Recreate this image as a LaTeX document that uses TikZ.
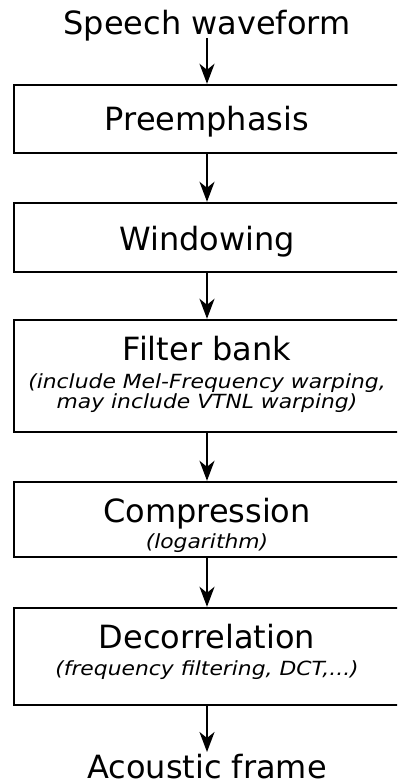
\documentclass[tikz,border=0pt]{standalone}
\usepackage{fontspec}
\setmainfont{DejaVu Sans}
\newfontfamily\notefont[FakeStretch=1.12]{DejaVu Sans}
\usetikzlibrary{arrows.meta}

\tikzset{
  stage/.style={draw, line width=2.4pt, minimum width=386pt, inner sep=0pt},
  title/.style={anchor=base, font=\fontsize{32}{38}\selectfont},
  note/.style={anchor=base, font=\notefont\fontsize{19.5}{22}\selectfont\itshape},
  flow/.style={line width=2.2pt, -{Stealth[length=20pt, width=15pt, inset=6pt]}}
}

\begin{document}
\begin{tikzpicture}[x=1pt, y=-1pt]

    \useasboundingbox (0,0) rectangle (397,784);
    \clip (0,0) rectangle (397,784);

    % Input and output
    \node[title] (src) at (207,35) {Speech waveform};
    \node[title] (dst) at (207,778) {Acoustic frame};
    \coordinate (srcout) at (207,38);
    \coordinate (dstin) at (207,752);

    % Processing stages
    \node[stage, minimum height=68pt] (pre) at (207,119) {};
    \node[title] (pretext) at (207,130) {Preemphasis};

    \node[stage, minimum height=69pt] (win) at (207,237.5) {};
    \node[title] (wintext) at (207,250) {Windowing};

    \node[stage, minimum height=112pt] (fb) at (207,376) {};
    \node[title] (fbtext) at (207,360) {Filter bank};
    \node[note] (fbnote1) at (207,388) {(include Mel-Frequency warping,};
    \node[note] (fbnote2) at (207,408) {may include VTNL warping)};

    \node[stage, minimum height=75pt] (comp) at (207,519.5) {};
    \node[title] (comptext) at (207,522) {Compression};
    \node[note] (compnote) at (207,548) {(logarithm)};

    \node[stage, minimum height=97pt] (dec) at (207,656.5) {};
    \node[title] (dectext) at (207,648) {Decorrelation};
    \node[note] (decnote) at (207,675) {(frequency filtering, DCT,...)};

    % Arrows
    \draw[flow] (srcout) -- (pre);
    \draw[flow] (pre) -- (win);
    \draw[flow] (win) -- (fb);
    \draw[flow] (fb) -- (comp);
    \draw[flow] (comp) -- (dec);
    \draw[flow] (dec) -- (dstin);

\end{tikzpicture}
\end{document}
